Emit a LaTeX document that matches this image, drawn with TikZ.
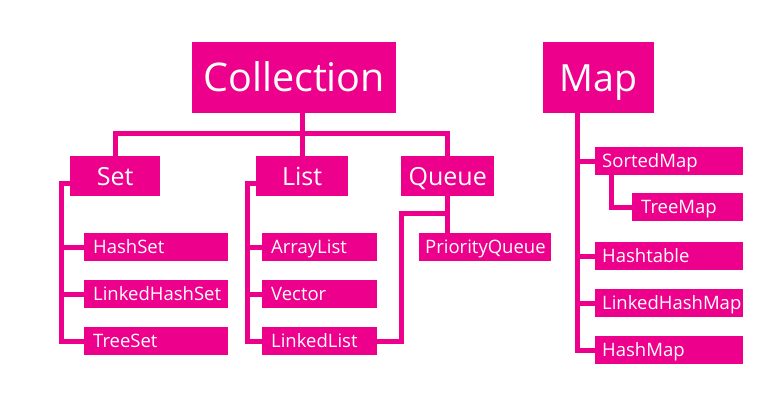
\documentclass[tikz,border=0pt]{standalone}
\usepackage{fontspec}
\setmainfont{Open Sans}
\usetikzlibrary{positioning}
\definecolor{javapink}{HTML}{EC008C}

\begin{document}
\begin{tikzpicture}[x=1pt, y=-1pt,
  rootbox/.style={fill=javapink, text=white, anchor=north west, inner sep=0pt,
              minimum height=71pt, text depth=-5pt},
  midbox/.style={fill=javapink, text=white, anchor=north west, inner sep=0pt,
              minimum height=40pt, text height=17.9pt, text depth=-1pt,
              font=\fontsize{25}{28}\selectfont},
  leafbox/.style={fill=javapink, text=white, anchor=north west, inner xsep=9pt,
              inner ysep=0pt, minimum height=28pt, text width=#1, align=left,
              text height=13.2pt, text depth=-2pt,
              font=\fontsize{18.5}{20}\selectfont},
  link/.style={draw=javapink, line width=5pt}
]
\useasboundingbox (0,0) rectangle (774,402);

\node[rootbox, minimum width=204pt, text height=28.2pt,
      font=\fontsize{39.5}{44}\selectfont] (Collection) at (192,42) {Collection};
\node[rootbox, minimum width=111pt, text height=26.8pt,
      font=\fontsize{37.5}{42}\selectfont] (Map) at (543,42) {Map};

\node[midbox, minimum width=90pt] (Set)   at (70,156)  {Set};
\node[midbox, minimum width=92pt] (List)  at (256,156) {List};
\node[midbox, minimum width=93pt] (Queue) at (401,156) {Queue};

\node[leafbox=126pt] (HashSet)       at (84,233) {HashSet};
\node[leafbox=126pt] (LinkedHashSet) at (84,280) {LinkedHashSet};
\node[leafbox=126pt] (TreeSet)       at (84,327) {TreeSet};

\node[leafbox=97pt] (ArrayList)  at (262,233) {ArrayList};
\node[leafbox=97pt] (Vector)     at (262,280) {Vector};
\node[leafbox=97pt] (LinkedList) at (262,327) {LinkedList};

\node[leafbox=120pt, inner xsep=6pt] (PriorityQueue) at (419,233) {PriorityQueue};

\node[leafbox=134pt, inner xsep=7pt] (SortedMap) at (595,147) {SortedMap};
\node[leafbox=93pt]  (TreeMap)       at (632,193) {TreeMap};
\node[leafbox=134pt, inner xsep=7pt] (Hashtable)     at (595,242) {Hashtable};
\node[leafbox=134pt, inner xsep=7pt] (LinkedHashMap) at (595,289) {LinkedHashMap};
\node[leafbox=134pt, inner xsep=7pt] (HashMap)       at (595,336) {HashMap};

\coordinate (colbus)   at (302,133);
\coordinate (setrail)  at (61,183);
\coordinate (listrail) at (247,183);
\coordinate (queuebus) at (401,213.5);
\coordinate (maprail)  at (577,113);
\coordinate (treerail) at (611,175);

\draw[link] (List.north) -- (List.north |- Collection.south);
\draw[link] (Set.north) |- (colbus) -| (Queue.north);

\draw[link] (Set.west |- setrail) -- (setrail) |- (TreeSet.west);
\draw[link] (HashSet.west) -- (HashSet.west -| setrail);
\draw[link] (LinkedHashSet.west) -- (LinkedHashSet.west -| setrail);

\draw[link] (List.west |- listrail) -- (listrail) |- (LinkedList.west);
\draw[link] (ArrayList.west) -- (ArrayList.west -| listrail);
\draw[link] (Vector.west) -- (Vector.west -| listrail);

\draw[link] (LinkedList.east) -| (queuebus) -| (Queue.south);
\draw[link] (Queue.south) -- (Queue.south |- PriorityQueue.north);

\draw[link] (Map.south -| maprail) |- (HashMap.west);
\draw[link] (SortedMap.west) -- (SortedMap.west -| maprail);
\draw[link] (Hashtable.west) -- (Hashtable.west -| maprail);
\draw[link] (LinkedHashMap.west) -- (LinkedHashMap.west -| maprail);
\draw[link] (SortedMap.south -| treerail) |- (TreeMap.west);
\end{tikzpicture}
\end{document}
